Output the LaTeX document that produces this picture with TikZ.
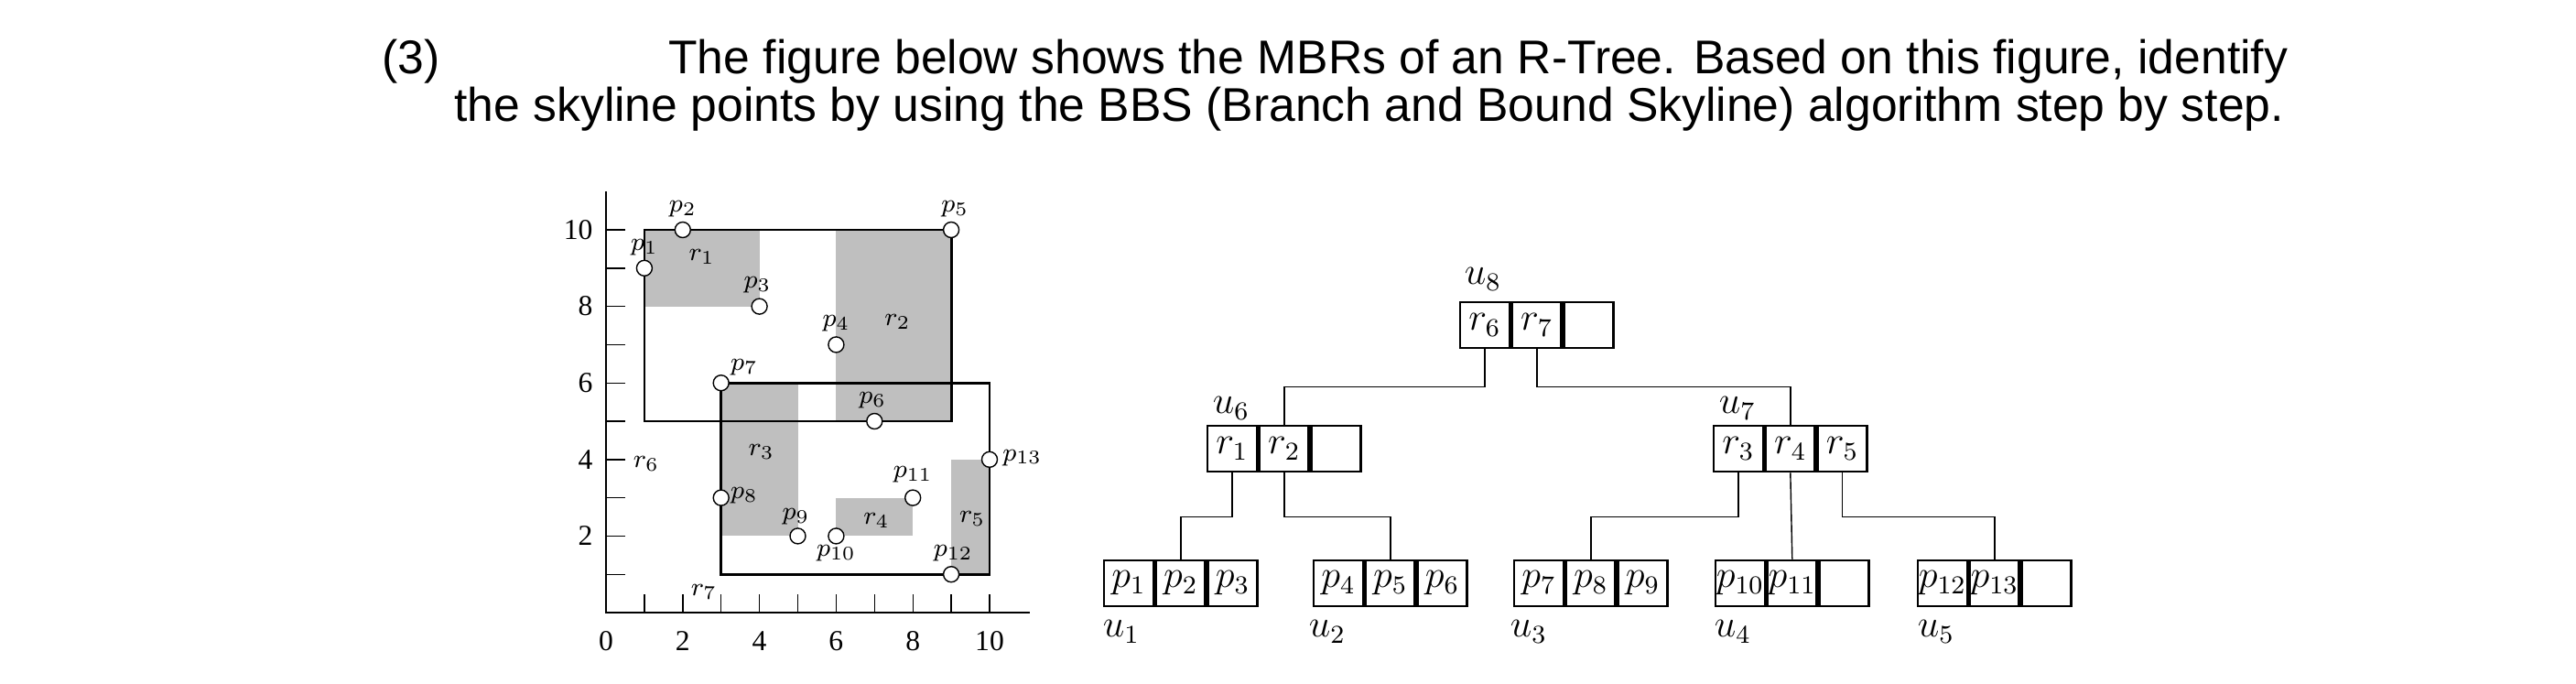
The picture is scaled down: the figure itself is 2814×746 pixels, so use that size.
\documentclass[tikz,border=0pt]{standalone}
\usepackage{fontspec}
\setmainfont{Liberation Sans}
\newfontfamily\numfont{Liberation Serif}
\usetikzlibrary{positioning}
\tikzset{
  cell/.style={draw, thick, minimum width=5.4mm, minimum height=5.0mm, inner sep=0pt, font=\large},
  pt/.style={circle, draw, fill=white, inner sep=0pt, minimum size=1.7mm},
  lbl/.style={font=\footnotesize},
  num/.style={font=\numfont\small},
  title/.style={anchor=west, font=\fontsize{14.7}{17}\selectfont},
}
\begin{document}
\begin{tikzpicture}[x=0.1mm, y=-0.1mm]
\useasboundingbox (0,0) rectangle (2814,746);

\node[title] (num) at (405,67) {(3)};
\node[title] (line1) at (718,67) {The figure below shows the MBRs of an R-Tree. Based on this figure, identify};
\node[title] (line2) at (484,119) {the skyline points by using the BBS (Branch and Bound Skyline) algorithm step by step.};

% the MBRs
\begin{scope}[shift={(662,669)}, x=4.19mm, y=4.18mm]
\fill[gray!50] (1,8) rectangle (4,10);
\fill[gray!50] (6,5) rectangle (9,10);
\fill[gray!50] (3,2) rectangle (5,6);
\fill[gray!50] (6,2) rectangle (8,3);
\fill[gray!50] (9,1) rectangle (10,4);
\draw[thick] (1,5) rectangle (9,10);
\draw[thick] (3,1) rectangle (10,6);

\draw (0,11) -- (0,0) -- (11.05,0);
\foreach \i in {1,...,10} {
  \draw (\i,0) -- (\i,0.48);
  \draw (0,\i) -- (0.5,\i);
}
\foreach \i in {0,2,...,10} \node[num] at (\i,-0.75) {\i};
\foreach \i in {2,4,...,10} \node[num, anchor=east] at (-0.05,\i) {\i};

\node[pt] (p1) at (1,9) {};
\node[pt] (p2) at (2,10) {};
\node[pt] (p3) at (4,8) {};
\node[pt] (p4) at (6,7) {};
\node[pt] (p5) at (9,10) {};
\node[pt] (p6) at (7,5) {};
\node[pt] (p7) at (3,6) {};
\node[pt] (p8) at (3,3) {};
\node[pt] (p9) at (5,2) {};
\node[pt] (p10) at (6,2) {};
\node[pt] (p11) at (8,3) {};
\node[pt] (p12) at (9,1) {};
\node[pt] (p13) at (10,4) {};

\node[lbl] at (1,9.55) {$p_1$};
\node[lbl] at (2,10.55) {$p_2$};
\node[lbl] at (3.95,8.55) {$p_3$};
\node[lbl] at (6,7.55) {$p_4$};
\node[lbl] at (9.1,10.55) {$p_5$};
\node[lbl] at (6.95,5.55) {$p_6$};
\node[lbl] at (3.6,6.4) {$p_7$};
\node[lbl] at (3.6,3.05) {$p_8$};
\node[lbl] at (4.95,2.5) {$p_9$};
\node[lbl] at (6,1.55) {$p_{10}$};
\node[lbl] at (8,3.6) {$p_{11}$};
\node[lbl] at (9.05,1.55) {$p_{12}$};
\node[lbl] at (10.85,4.05) {$p_{13}$};

\node[lbl] at (2.5,9.3) {$r_1$};
\node[lbl] at (7.6,7.6) {$r_2$};
\node[lbl] at (4.05,4.2) {$r_3$};
\node[lbl] at (7.05,2.4) {$r_4$};
\node[lbl] at (9.55,2.45) {$r_5$};
\node[lbl] at (1.05,3.9) {$r_6$};
\node[lbl] at (2.55,0.55) {$r_7$};
\end{scope}

% the R-tree
\node[cell] (u8a) at (1622,355) {$r_6$};
\node[cell, right=0pt of u8a] (u8b) {$r_7$};
\node[cell, right=0pt of u8b] (u8c) {};

\node[cell] (u6a) at (1346,490) {$r_1$};
\node[cell, right=0pt of u6a] (u6b) {$r_2$};
\node[cell, right=0pt of u6b] (u6c) {};

\node[cell] (u7a) at (1899,490) {$r_3$};
\node[cell, right=0pt of u7a] (u7b) {$r_4$};
\node[cell, right=0pt of u7b] (u7c) {$r_5$};

\node[cell] (u1a) at (1233,637) {$p_1$};
\node[cell, right=0pt of u1a] (u1b) {$p_2$};
\node[cell, right=0pt of u1b] (u1c) {$p_3$};

\node[cell] (u2a) at (1462,637) {$p_4$};
\node[cell, right=0pt of u2a] (u2b) {$p_5$};
\node[cell, right=0pt of u2b] (u2c) {$p_6$};

\node[cell] (u3a) at (1681,637) {$p_7$};
\node[cell, right=0pt of u3a] (u3b) {$p_8$};
\node[cell, right=0pt of u3b] (u3c) {$p_9$};

\node[cell] (u4a) at (1901,637) {$p_{10}$};
\node[cell, right=0pt of u4a] (u4b) {$p_{11}$};
\node[cell, right=0pt of u4b] (u4c) {};

\node[cell] (u5a) at (2122,637) {$p_{12}$};
\node[cell, right=0pt of u5a] (u5b) {$p_{13}$};
\node[cell, right=0pt of u5b] (u5c) {};

\node[font=\large] (l8) at (1620,305) {$u_8$};
\node[font=\large] (l6) at (1345,446) {$u_6$};
\node[font=\large] (l7) at (1898,446) {$u_7$};
\node[font=\large] (l1) at (1225,690) {$u_1$};
\node[font=\large] (l2) at (1450,690) {$u_2$};
\node[font=\large] (l3) at (1670,690) {$u_3$};
\node[font=\large] (l4) at (1893,690) {$u_4$};
\node[font=\large] (l5) at (2115,690) {$u_5$};

\draw (u8a.south) -- ++(0,41) -| (u6b.north);
\draw (u8b.south) -- ++(0,41) -| (u7b.north);
\draw (u6a.south) -- ++(0,48) -| (u1b.north);
\draw (u6b.south) -- ++(0,48) -| (u2b.north);
\draw (u7a.south) -- ++(0,48) -| (u3b.north);
\draw (u7b.south) -- (u4b.north);
\draw (u7c.south) -- ++(0,48) -| (u5b.north);
\end{tikzpicture}
\end{document}
